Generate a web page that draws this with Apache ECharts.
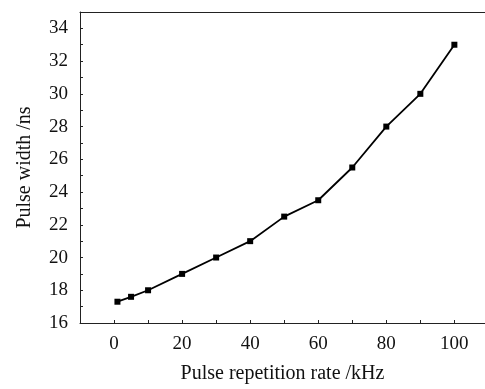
<!DOCTYPE html>
<html><head><meta charset="utf-8">
<script src="https://cdn.jsdelivr.net/npm/echarts@6/dist/echarts.min.js"></script>
<style>html,body{margin:0;padding:0;background:#fff}#c{width:485px;height:389px}</style>
</head><body><div id="c"></div>
<script>
var rateKHz = [1, 5, 10, 20, 30, 40, 50, 60, 70, 80, 90, 100];
var pulseWidthNs = [17.3, 17.6, 18, 19, 20, 21, 22.5, 23.5, 25.5, 28, 30, 33];
var xTickLabels = [0, 20, 40, 60, 80, 100];
var yTickLabels = [16, 18, 20, 22, 24, 26, 28, 30, 32, 34];
var xName = 'Pulse repetition rate /kHz';
var yName = 'Pulse width /ns';

var font = 'Liberation Serif';
var chart = echarts.init(document.getElementById('c'));
chart.setOption({
  animation: false,
  backgroundColor: '#fff',
  grid: {left: 80, right: 0, top: 12, bottom: 63, containLabel: false},
  xAxis: [{
    type: 'value', min: -10, max: 109, interval: 10, position: 'bottom',
    name: xName, nameLocation: 'middle', nameGap: 41,
    nameTextStyle: {fontFamily: font, fontSize: 20, color: '#111'},
    axisLine: {show: true, onZero: false, lineStyle: {color: '#222', width: 1}},
    axisTick: {show: true, inside: true, length: 3, lineStyle: {color: '#222'}},
    axisLabel: {margin: 12, fontFamily: font, fontSize: 19, color: '#111', showMaxLabel: false,
      formatter: function (v) { return xTickLabels.indexOf(v) >= 0 ? String(v) : ''; }},
    splitLine: {show: false}
  }, {
    type: 'value', min: -10, max: 109, position: 'top',
    axisLine: {show: true, onZero: false, lineStyle: {color: '#222', width: 1}},
    axisTick: {show: false}, axisLabel: {show: false}, splitLine: {show: false}
  }],
  yAxis: {
    type: 'value', min: 16, max: 35, interval: 1,
    name: yName, nameLocation: 'middle', nameGap: 45, nameRotate: 90,
    nameTextStyle: {fontFamily: font, fontSize: 20, color: '#111'},
    axisLine: {show: true, onZero: false, lineStyle: {color: '#222', width: 1}},
    axisTick: {show: true, inside: true, length: 3, lineStyle: {color: '#222'}},
    axisLabel: {margin: 12, fontFamily: font, fontSize: 19, color: '#111',
      formatter: function (v) { return yTickLabels.indexOf(v) >= 0 ? String(v) : ''; }},
    splitLine: {show: false}
  },
  series: [{
    type: 'line', xAxisIndex: 0,
    data: rateKHz.map(function (x, i) { return [x, pulseWidthNs[i]]; }),
    symbol: 'rect', symbolSize: 6,
    lineStyle: {color: '#000', width: 1.8},
    itemStyle: {color: '#000'}
  }]
});
</script></body></html>
